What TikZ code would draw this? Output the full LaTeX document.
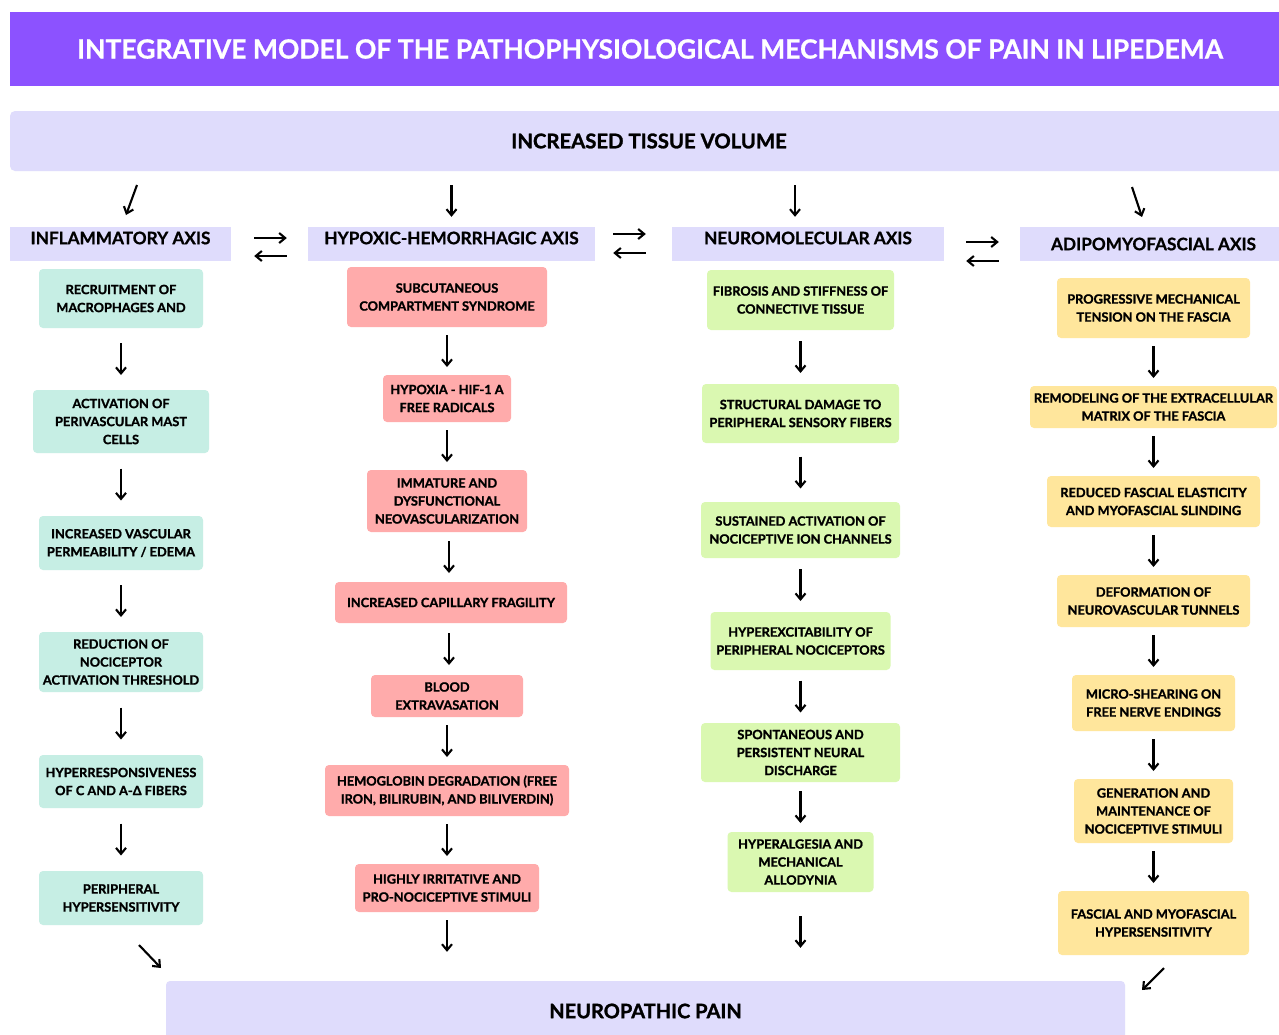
\documentclass[tikz,border=0pt]{standalone}
\usepackage{fontspec}
\setmainfont{Lato}
\newfontfamily\heavyfont{Lato}[BoldFeatures={FakeBold=1.3}]
\newfontfamily\midfont{Lato}[BoldFeatures={FakeBold=0.8}]
\usetikzlibrary{arrows.meta,calc}
\definecolor{ttl}{HTML}{8C52FF}
\definecolor{lav}{HTML}{DFDCFC}
\definecolor{cteal}{HTML}{C6EEE4}
\definecolor{cpink}{HTML}{FFABAB}
\definecolor{cgreen}{HTML}{DAF8B1}
\definecolor{cyell}{HTML}{FFE69C}
\newcommand\flowarr[2]{\draw[arr] ($(#1.south)!0.5!(#2.north)+(0,-16)$) -- ($(#1.south)!0.5!(#2.north)+(0,16)$);}
\begin{document}
\begin{tikzpicture}[x=1pt,y=-1pt,
  box/.style={rounded corners=4pt, inner xsep=1pt, inner ysep=1pt, align=center,
    font=\fontsize{12.8}{18}\selectfont\heavyfont\bfseries, text=black},
  tealbox/.style={box, fill=cteal},
  pinkbox/.style={box, fill=cpink},
  greenbox/.style={box, fill=cgreen},
  yellbox/.style={box, fill=cyell},
  hdr/.style={fill=lav, inner sep=0pt, minimum height=34pt},
  hdrtext/.style={font=\fontsize{17.2}{20}\selectfont\midfont\bfseries, inner sep=0pt},
  arr/.style={line width=2.1pt, -{Straight Barb[length=6pt,width=10pt]}}
]
\useasboundingbox (0,0) rectangle (1279,1034);
\fill[white] (0,0) rectangle (1279,1034);

% title
\node[fill=ttl, minimum width=1280pt, minimum height=74pt, inner sep=0pt, text=white,
  font=\fontsize{26.5}{30}\selectfont\midfont\bfseries] (title) at (650,49)
  {INTEGRATIVE MODEL OF THE PATHOPHYSIOLOGICAL MECHANISMS OF PAIN IN LIPEDEMA};

% tissue volume
\node[fill=lav, rounded corners=5pt, minimum width=1278pt, minimum height=60pt, inner sep=0pt,
  font=\fontsize{20.3}{24}\selectfont\heavyfont\bfseries] (tissue) at (649,141) {INCREASED TISSUE VOLUME};

% headers
\node[hdr, minimum width=221pt] (h1) at (120.5,244) {};
\node[hdrtext] (h1t) at (120.5,238) {INFLAMMATORY AXIS};
\node[hdr, minimum width=287pt] (h2) at (451.5,244) {};
\node[hdrtext] (h2t) at (451.5,238) {HYPOXIC-HEMORRHAGIC AXIS};
\node[hdr, minimum width=272pt] (h3) at (808,244) {};
\node[hdrtext] (h3t) at (808,238) {NEUROMOLECULAR AXIS};
\node[hdr, minimum width=260pt] (h4) at (1150,244) {};
\node[hdrtext] (h4t) at (1153.5,244) {ADIPOMYOFASCIAL AXIS};

% column 1
\node[tealbox, minimum width=164pt, minimum height=59pt] (c1a) at (121,298.5) {RECRUITMENT OF\\MACROPHAGES AND};
\node[tealbox, minimum width=176pt, minimum height=63pt] (c1b) at (121,421.5) {ACTIVATION OF\\PERIVASCULAR MAST\\CELLS};
\node[tealbox, minimum width=164pt, minimum height=54pt] (c1c) at (121,543) {INCREASED VASCULAR\\PERMEABILITY / EDEMA};
\node[tealbox, minimum width=164pt, minimum height=60pt] (c1d) at (121,662) {REDUCTION OF\\NOCICEPTOR\\ACTIVATION THRESHOLD};
\node[tealbox, minimum width=164pt, minimum height=53pt] (c1e) at (121,781.5) {HYPERRESPONSIVENESS\\OF C AND A-Δ FIBERS};
\node[tealbox, minimum width=164pt, minimum height=54pt] (c1f) at (121,898) {PERIPHERAL\\HYPERSENSITIVITY};

% column 2
\node[pinkbox, minimum width=200pt, minimum height=60pt] (c2a) at (447,297) {SUBCUTANEOUS\\COMPARTMENT SYNDROME};
\node[pinkbox, minimum width=128pt, minimum height=47pt] (c2b) at (447,398.5) {HYPOXIA - HIF-1 A\\FREE RADICALS};
\node[pinkbox, minimum width=160pt, minimum height=62pt] (c2c) at (447,501) {IMMATURE AND\\DYSFUNCTIONAL\\NEOVASCULARIZATION};
\node[pinkbox, minimum width=232pt, minimum height=41pt] (c2d) at (451,602.5) {INCREASED CAPILLARY FRAGILITY};
\node[pinkbox, minimum width=152pt, minimum height=42pt] (c2e) at (447,696) {BLOOD\\EXTRAVASATION};
\node[pinkbox, minimum width=244pt, minimum height=51pt] (c2f) at (447,790.5) {HEMOGLOBIN DEGRADATION (FREE\\IRON, BILIRUBIN, AND BILIVERDIN)};
\node[pinkbox, minimum width=184pt, minimum height=48pt] (c2g) at (447,888) {HIGHLY IRRITATIVE AND\\PRO-NOCICEPTIVE STIMULI};

% column 3
\node[greenbox, minimum width=187pt, minimum height=60pt] (c3a) at (800.5,300) {FIBROSIS AND STIFFNESS OF\\CONNECTIVE TISSUE};
\node[greenbox, minimum width=197pt, minimum height=59pt] (c3b) at (800.5,413.5) {STRUCTURAL DAMAGE TO\\PERIPHERAL SENSORY FIBERS};
\node[greenbox, minimum width=199pt, minimum height=56pt] (c3c) at (800.5,530) {SUSTAINED ACTIVATION OF\\NOCICEPTIVE ION CHANNELS};
\node[greenbox, minimum width=180pt, minimum height=58pt] (c3d) at (800.5,641) {HYPEREXCITABILITY OF\\PERIPHERAL NOCICEPTORS};
\node[greenbox, minimum width=199pt, minimum height=59pt] (c3e) at (800.5,752.5) {SPONTANEOUS AND\\PERSISTENT NEURAL\\DISCHARGE};
\node[greenbox, minimum width=146pt, minimum height=60pt] (c3f) at (800.5,862) {HYPERALGESIA AND\\MECHANICAL\\ALLODYNIA};

% column 4
\node[yellbox, minimum width=193pt, minimum height=60pt] (c4a) at (1153.5,308) {PROGRESSIVE MECHANICAL\\TENSION ON THE FASCIA};
\node[yellbox, minimum width=247pt, minimum height=42pt] (c4b) at (1153.5,407) {REMODELING OF THE EXTRACELLULAR\\MATRIX OF THE FASCIA};
\node[yellbox, minimum width=213pt, minimum height=51pt] (c4c) at (1153.5,501.5) {REDUCED FASCIAL ELASTICITY\\AND MYOFASCIAL SLINDING};
\node[yellbox, minimum width=193pt, minimum height=52pt] (c4d) at (1153.5,601) {DEFORMATION OF\\NEUROVASCULAR TUNNELS};
\node[yellbox, minimum width=163pt, minimum height=56pt] (c4e) at (1153.5,703) {MICRO-SHEARING ON\\FREE NERVE ENDINGS};
\node[yellbox, minimum width=159pt, minimum height=64pt] (c4f) at (1153.5,811) {GENERATION AND\\MAINTENANCE OF\\NOCICEPTIVE STIMULI};
\node[yellbox, minimum width=191pt, minimum height=64pt] (c4g) at (1153.5,923) {FASCIAL AND MYOFASCIAL\\HYPERSENSITIVITY};

% bottom bar
\node[fill=lav, rounded corners=4pt, minimum width=959pt, minimum height=60pt, inner sep=0pt,
  font=\fontsize{20}{24}\selectfont\heavyfont\bfseries] (bar) at (645.5,1011) {NEUROPATHIC PAIN};

% arrows from tissue to headers
\coordinate (t1s) at (137,185); \coordinate (t1e) at (126,215);
\draw[arr] (t1s) -- (t1e);
\draw[arr, shorten <=14pt, shorten >=10pt] (h2.north |- tissue.south) -- (h2.north);
\coordinate (a3) at ([xshift=-13pt]h3.north);
\draw[arr, shorten <=14pt, shorten >=10pt] (a3 |- tissue.south) -- (a3);
\coordinate (t4s) at (1132,187); \coordinate (t4e) at (1142,217);
\draw[arr] (t4s) -- (t4e);

% double arrows between headers
\draw[arr, shorten <=23pt, shorten >=21pt] ([yshift=6pt]h1.east) -- ([yshift=6pt]h2.west);
\draw[arr, shorten <=21pt, shorten >=23pt] ([yshift=-12pt]h2.west) -- ([yshift=-12pt]h1.east);
\draw[arr, shorten <=18pt, shorten >=26pt] ([yshift=10pt]h2.east) -- ([yshift=10pt]h3.west);
\draw[arr, shorten <=26pt, shorten >=18pt] ([yshift=-9pt]h3.west) -- ([yshift=-9pt]h2.east);
\draw[arr, shorten <=22pt, shorten >=21pt] ([yshift=2pt]h3.east) -- ([yshift=2pt]h4.west);
\draw[arr, shorten <=21pt, shorten >=22pt] ([yshift=-17pt]h4.west) -- ([yshift=-17pt]h3.east);

% column flows
\flowarr{c1a}{c1b}\flowarr{c1b}{c1c}\flowarr{c1c}{c1d}\flowarr{c1d}{c1e}\flowarr{c1e}{c1f}
\flowarr{c2a}{c2b}\flowarr{c2b}{c2c}\flowarr{c2c}{c2d}\flowarr{c2d}{c2e}\flowarr{c2e}{c2f}\flowarr{c2f}{c2g}
\flowarr{c3a}{c3b}\flowarr{c3b}{c3c}\flowarr{c3c}{c3d}\flowarr{c3d}{c3e}\flowarr{c3e}{c3f}
\flowarr{c4a}{c4b}\flowarr{c4b}{c4c}\flowarr{c4c}{c4d}\flowarr{c4d}{c4e}\flowarr{c4e}{c4f}\flowarr{c4f}{c4g}

% arrows to neuropathic pain
\coordinate (b1s) at (139,945); \coordinate (b1e) at (161,968);
\draw[arr] (b1s) -- (b1e);
\draw[arr, shorten <=8pt, shorten >=29pt] (c2g.south) -- (c2g.south |- bar.north);
\draw[arr, shorten <=24pt, shorten >=33pt] (c3f.south) -- (c3f.south |- bar.north);
\coordinate (b4s) at (1164,968); \coordinate (b4e) at (1142,990);
\draw[arr] (b4s) -- (b4e);
\end{tikzpicture}
\end{document}
